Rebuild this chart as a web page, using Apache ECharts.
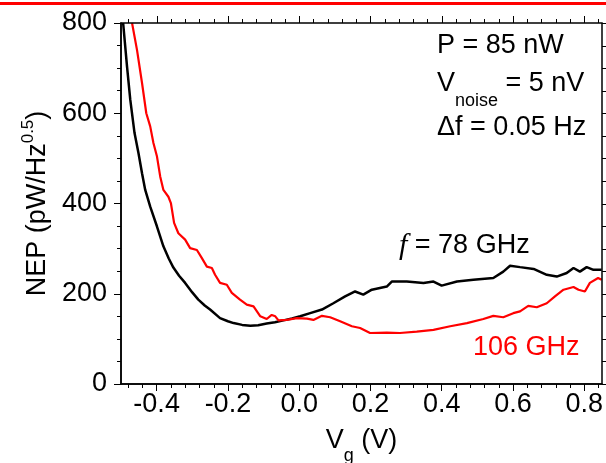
<!DOCTYPE html>
<html>
	<head>
		<meta charset="utf-8" />
		<title>NEP vs Vg</title>
		<script type="text/javascript" src="https://cdn.jsdelivr.net/npm/echarts@6/dist/echarts.min.js"></script>
	</head>
	<body style="margin:0;">
		<div id="main" style="width:606px;height:463px;"></div>
	</body>
	<script>
	// f = 78 GHz (black)
	var blackV = [-0.494,-0.483,-0.474,-0.462,-0.451,-0.441,-0.432,-0.418,-0.399,-0.381,-0.366,-0.353,-0.337,-0.320,-0.300,-0.283,-0.265,-0.250,-0.222,-0.200,-0.184,-0.160,-0.137,-0.115,-0.091,-0.068,-0.044,-0.020,0.003,0.031,0.064,0.096,0.129,0.157,0.180,0.204,0.246,0.260,0.302,0.349,0.377,0.400,0.443,0.489,0.545,0.573,0.592,0.620,0.658,0.695,0.723,0.751,0.770,0.788,0.807,0.826,0.849];
	var blackNEP = [800,703,630,556,512,467,430,393,349,305,278,258,240,224,203,187,174,165,146,139,135,131,129,130,134,137,141,145,150,157,165,179,194,205,198,209,216,227,227,224,227,218,227,231,235,249,262,259,255,242,238,246,257,249,259,253,253];
	// 106 GHz (red)
	var redV = [-0.469,-0.455,-0.441,-0.429,-0.418,-0.409,-0.399,-0.390,-0.381,-0.367,-0.360,-0.351,-0.339,-0.320,-0.306,-0.287,-0.273,-0.259,-0.245,-0.236,-0.222,-0.203,-0.189,-0.166,-0.147,-0.128,-0.109,-0.091,-0.077,-0.067,-0.058,-0.035,-0.006,0.022,0.040,0.064,0.087,0.115,0.148,0.171,0.199,0.246,0.283,0.330,0.377,0.424,0.471,0.517,0.545,0.573,0.601,0.620,0.643,0.667,0.695,0.718,0.742,0.770,0.784,0.802,0.816,0.839,0.849];
	var redNEP = [800,740,667,600,571,534,504,460,430,415,401,357,334,320,301,297,279,260,257,242,224,220,202,187,176,172,150,144,153,150,141,142,146,145,142,151,148,139,128,124,113,114,113,116,120,128,135,144,151,148,157,161,173,170,179,194,209,215,209,205,224,235,231];

	var xMajor = [-0.4,-0.2,0.0,0.2,0.4,0.6,0.8];
	var yMajor = [0,200,400,600,800];

	// minor ticks: 5 steps per 0.2 on x, 4 steps per 200 on y
	var xMinor = [];
	for (var i = -12; i <= 21; i++) {
		if (i % 5 !== 0) xMinor.push(+(i * 0.04).toFixed(2));
	}
	var yMinor = [];
	for (var j = 1; j < 16; j++) {
		if (j % 4 !== 0) yMinor.push(j * 50);
	}

	function pairs(xs, ys) {
		var out = [];
		for (var i = 0; i < xs.length; i++) out.push([xs[i], ys[i]]);
		return out;
	}

	var FONT = '"Liberation Sans", Arial, sans-serif';
	var XMIN = -0.5, XMAX = 0.85, YMIN = 0, YMAX = 800;
	var GL = 121, GT = 23, GW = 481, GH = 361;

	// same linear mapping as the grid's value axes
	function sx(v) { return GL + (v - XMIN) / (XMAX - XMIN) * GW; }
	function sy(n) { return GT + GH - (n - YMIN) / (YMAX - YMIN) * GH; }

	function seg(x1, y1, x2, y2, w) {
		return { type: 'line', z: 100, silent: true, shape: { x1: x1, y1: y1, x2: x2, y2: y2 }, style: { stroke: '#000', lineWidth: w } };
	}

	var graphics = [
		{ type: 'rect', shape: { x: 0, y: 2, width: 606, height: 3 }, style: { fill: '#ff0000' } },
		{ type: 'text', x: 437, y: 46, style: { text: 'P = 85 nW', fontSize: 27, fontFamily: FONT, fill: '#000', verticalAlign: 'middle' } },
		{ type: 'text', x: 437, y: 85, style: {
			text: '{a|V}{s|noise}{a| = 5 nV}', verticalAlign: 'middle',
			rich: {
				a: { fontSize: 27, fontFamily: FONT, fill: '#000', lineHeight: 30, verticalAlign: 'top' },
				s: { fontSize: 18, fontFamily: FONT, fill: '#000', lineHeight: 18, verticalAlign: 'top', padding: [22, 0, 0, 0] }
			}
		} },
		{ type: 'text', x: 437, y: 128, style: { text: '\u0394f = 0.05 Hz', fontSize: 27, fontFamily: FONT, fill: '#000', verticalAlign: 'middle' } },
		{ type: 'text', x: 399, y: 246, style: {
			text: '{i|f}{a| = 78 GHz}', verticalAlign: 'middle',
			rich: {
				i: { fontSize: 30, fontFamily: '"Liberation Serif", serif', fontStyle: 'italic', fill: '#000' },
				a: { fontSize: 27, fontFamily: FONT, fill: '#000' }
			}
		} },
		{ type: 'text', x: 473, y: 348, style: { text: '106 GHz', fontSize: 27, fontFamily: FONT, fill: '#ff0000', verticalAlign: 'middle' } },
		// top and right frame
		{ type: 'rect', z: 100, silent: true, shape: { x: GL, y: GT, width: GW, height: GH },
			style: { fill: 'none', stroke: '#000', lineWidth: 1.5 } }
	];

	xMajor.forEach(function (v) {
		var x = Math.round(sx(v)) + 0.5;
		graphics.push(seg(x, GT, x, GT - 7, 1));
	});
	xMinor.forEach(function (v) {
		var x = Math.round(sx(v)) + 0.5;
		graphics.push(seg(x, GT, x, GT - 4, 1));
		graphics.push(seg(x, GT + GH, x, GT + GH + 4, 1));
	});
	yMajor.forEach(function (n) {
		var y = Math.round(sy(n)) + 0.5;
		graphics.push(seg(GL + GW, y, GL + GW + 7, y, 1));
	});
	yMinor.forEach(function (n) {
		var y = Math.round(sy(n)) + 0.5;
		graphics.push(seg(GL + GW, y, GL + GW + 4, y, 1));
	});

	var dom = document.getElementById('main');
	var myChart = echarts.init(dom, null, { renderer: 'canvas' });

	var option = {
		animation: false,
		grid: { left: GL, top: GT, width: GW, height: GH, containLabel: false, outerBoundsMode: 'none' },
		xAxis: {
			type: 'value', min: XMIN, max: XMAX,
			axisLine: { show: true, onZero: false, lineStyle: { color: '#000', width: 1.5 } },
			splitLine: { show: false },
			axisTick: { show: true, customValues: xMajor, length: 7, lineStyle: { color: '#000', width: 1 } },
			axisLabel: {
				customValues: xMajor, fontSize: 27, fontFamily: FONT, color: '#000', margin: 7,
				formatter: function (v) { return v.toFixed(1); }
			},
			name: '{a|V}{s|g}{a| (V)}',
			nameLocation: 'middle',
			nameGap: 43,
			nameTextStyle: {
				rich: {
					a: { fontSize: 27, fontFamily: FONT, color: '#000', lineHeight: 30, verticalAlign: 'top' },
					s: { fontSize: 18, fontFamily: FONT, color: '#000', lineHeight: 12, verticalAlign: 'top', padding: [20, 0, 0, 0] }
				}
			}
		},
		yAxis: {
			type: 'value', min: YMIN, max: YMAX, interval: 200,
			axisLine: { show: true, onZero: false, lineStyle: { color: '#000', width: 1.5 } },
			splitLine: { show: false },
			axisTick: { show: true, length: 7, lineStyle: { color: '#000' } },
			minorTick: { show: true, splitNumber: 4, length: 4, lineStyle: { color: '#000' } },
			axisLabel: { fontSize: 27, fontFamily: FONT, color: '#000', margin: 14 },
			name: '{a|NEP (pW/Hz}{s|0.5}{a|)}',
			nameLocation: 'middle',
			nameGap: 63,
			nameTextStyle: {
				rich: {
					a: { fontSize: 27, fontFamily: FONT, color: '#000', lineHeight: 30, verticalAlign: 'top', padding: [4, 0, 0, 0] },
					s: { fontSize: 17, fontFamily: FONT, color: '#000', lineHeight: 18, verticalAlign: 'top' }
				}
			}
		},
		series: [
			{
				name: '78 GHz', type: 'line',
				showSymbol: false, data: pairs(blackV, blackNEP),
				lineStyle: { color: '#000', width: 2.5 }, itemStyle: { color: '#000' }
			},
			{
				name: '106 GHz', type: 'line',
				showSymbol: false, data: pairs(redV, redNEP),
				lineStyle: { color: '#ff0000', width: 2.2 }, itemStyle: { color: '#ff0000' }
			}
		],
		graphic: graphics
	};
	myChart.setOption(option);
	window.addEventListener('resize', myChart.resize);
	</script>
</html>
